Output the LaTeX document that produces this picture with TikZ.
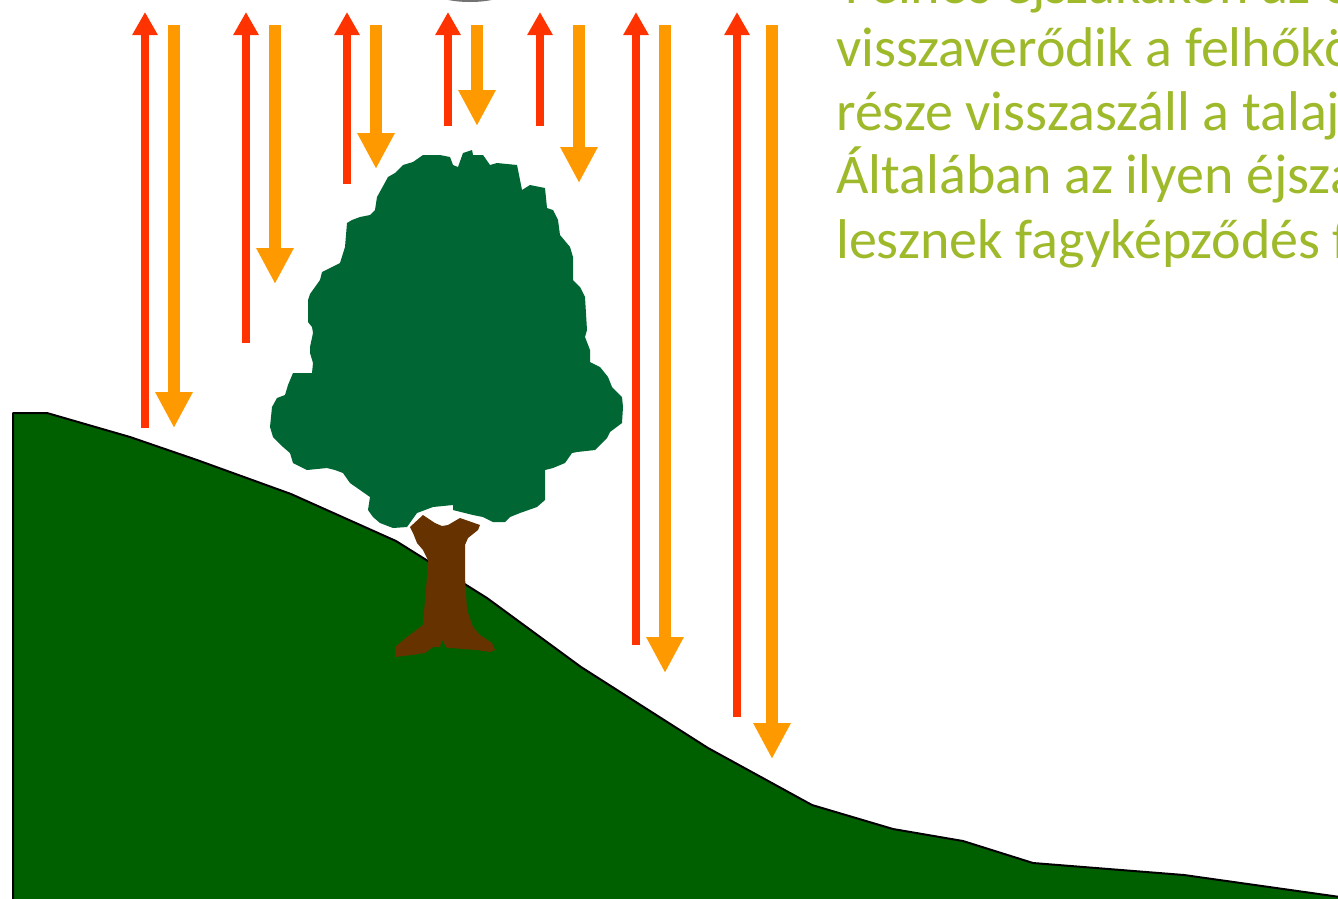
\documentclass[tikz,border=0pt]{standalone}
\usepackage{fontspec}
\newfontfamily\notefont{Carlito}
\usetikzlibrary{arrows.meta}
\definecolor{hillgreen}{RGB}{0,96,0}
\definecolor{leafgreen}{RGB}{0,102,51}
\definecolor{barkbrown}{RGB}{102,51,0}
\definecolor{upred}{RGB}{255,51,0}
\definecolor{downorange}{RGB}{255,153,0}
\definecolor{noteolive}{RGB}{158,186,42}
\tikzset{
  uparrow/.style={draw=upred, line width=8pt, -{Triangle[width=24pt,length=23pt]}},
  downarrow/.style={draw=downorange, line width=12pt, -{Triangle[width=35pt,length=36pt]}},
  notetext/.style={text=noteolive, anchor=base west, inner sep=0pt,
    font=\notefont\fontsize{56}{63}\selectfont},
  hill/.style={fill=hillgreen, draw=black, line width=2pt, line join=round},
  crown/.style={fill=leafgreen},
  trunk/.style={fill=barkbrown}
}
\begin{document}
\begin{tikzpicture}[x=1pt,y=-1pt]
\useasboundingbox (0,0) rectangle (1338,898);
\clip (0,0) rectangle (1338,898);
\fill[white] (0,0) rectangle (1338,898);

% bottom edge of a cloud above the frame
\fill[black!55] (470,-12) ellipse [x radius=42, y radius=14];

% hillside
\draw[hill] (13,905) -- (13,413) -- (47,413) -- (130,437) -- (197,460) -- (291,494)
  -- (396,541) -- (487,598) -- (581,667) -- (708,748) -- (812,805) -- (893,829)
  -- (963,841) -- (1033,863) -- (1184,875) -- (1340,897) -- (1340,905) -- cycle;

% tree crown
\fill[crown] (423,155) -- (440,155) -- (450,157) -- (453,165) -- (458,167) -- (463,153)
  -- (472,150) -- (473,155) -- (483,155) -- (490,165) -- (497,163) -- (517,165)
  -- (522,190) -- (530,185) -- (545,188) -- (547,208) -- (553,210) -- (558,220)
  -- (560,235) -- (570,247) -- (573,257) -- (573,280) -- (580,287) -- (585,297)
  -- (587,330) -- (585,337) -- (590,350) -- (590,362) -- (600,367) -- (608,377)
  -- (612,387) -- (622,397) -- (623,407) -- (622,423) -- (610,432) -- (607,438)
  -- (595,450) -- (577,452) -- (572,453) -- (565,463) -- (553,468) -- (545,470)
  -- (545,500) -- (537,507) -- (520,513) -- (510,517) -- (505,522) -- (493,522)
  -- (483,517) -- (473,515) -- (453,510) -- (453,505) -- (433,507) -- (417,513)
  -- (407,527) -- (393,528) -- (380,523) -- (373,517) -- (368,510) -- (370,497)
  -- (360,490) -- (350,483) -- (343,473) -- (335,470) -- (327,468) -- (307,470)
  -- (293,463) -- (290,453) -- (283,447) -- (273,437) -- (270,427) -- (272,407)
  -- (277,398) -- (285,395) -- (288,385) -- (293,373) -- (312,373) -- (313,363)
  -- (310,353) -- (310,347) -- (313,333) -- (312,327) -- (308,322) -- (308,300)
  -- (310,294) -- (315,287) -- (320,280) -- (322,272) -- (340,263) -- (345,247)
  -- (347,223) -- (352,220) -- (360,217) -- (370,215) -- (375,210) -- (377,197)
  -- (382,188) -- (388,177) -- (395,173) -- (403,165) -- (413,162) -- cycle;

% tree trunk
\fill[trunk] (410,527) -- (423,515) -- (435,523) -- (442,526) -- (448,525) -- (460,518)
  -- (480,525) -- (478,530) -- (468,538) -- (465,545) -- (465,577) -- (467,610)
  -- (473,627) -- (480,635) -- (492,643) -- (495,650) -- (490,652) -- (477,650)
  -- (463,649) -- (452,648) -- (447,648) -- (442,640) -- (440,647) -- (433,647)
  -- (425,653) -- (412,655) -- (395,657) -- (395,647) -- (407,637) -- (423,625)
  -- (425,600) -- (427,577) -- (428,560) -- (423,550) -- (417,543) -- (413,533) -- cycle;

% outgoing radiation (red) and returned radiation (orange)
\coordinate (r1a) at (145,428); \coordinate (r1b) at (145,12);
\coordinate (o1a) at (174,25);  \coordinate (o1b) at (174,428);
\coordinate (r2a) at (246,343); \coordinate (r2b) at (246,12);
\coordinate (o2a) at (275,25);  \coordinate (o2b) at (275,284);
\coordinate (r3a) at (347,184); \coordinate (r3b) at (347,12);
\coordinate (o3a) at (376,25);  \coordinate (o3b) at (376,169);
\coordinate (r4a) at (448,126); \coordinate (r4b) at (448,12);
\coordinate (o4a) at (477,25);  \coordinate (o4b) at (477,126);
\coordinate (r5a) at (540,126); \coordinate (r5b) at (540,12);
\coordinate (o5a) at (579,25);  \coordinate (o5b) at (579,183);
\coordinate (r6a) at (636,645); \coordinate (r6b) at (636,12);
\coordinate (o6a) at (665,25);  \coordinate (o6b) at (665,673);
\coordinate (r7a) at (737,717); \coordinate (r7b) at (737,12);
\coordinate (o7a) at (772,25);  \coordinate (o7b) at (772,759);

\foreach \i in {1,...,7}{
  \draw[uparrow] (r\i a) -- (r\i b);
  \draw[downarrow] (o\i a) -- (o\i b);
}

% explanatory text
\node[notetext] (t1) at (845,3)   {Felhős éjszakákon az éjszakai};
\node[notetext] (t2) at (836,66)  {visszaverődik a felhőkön};
\node[notetext] (t3) at (836,130) {része visszaszáll a talajszintre};
\node[notetext] (t4) at (836,193) {Általában az ilyen éjszakákon};
\node[notetext] (t5) at (836,258) {lesznek fagyképződés folyamatok};
\end{tikzpicture}
\end{document}
